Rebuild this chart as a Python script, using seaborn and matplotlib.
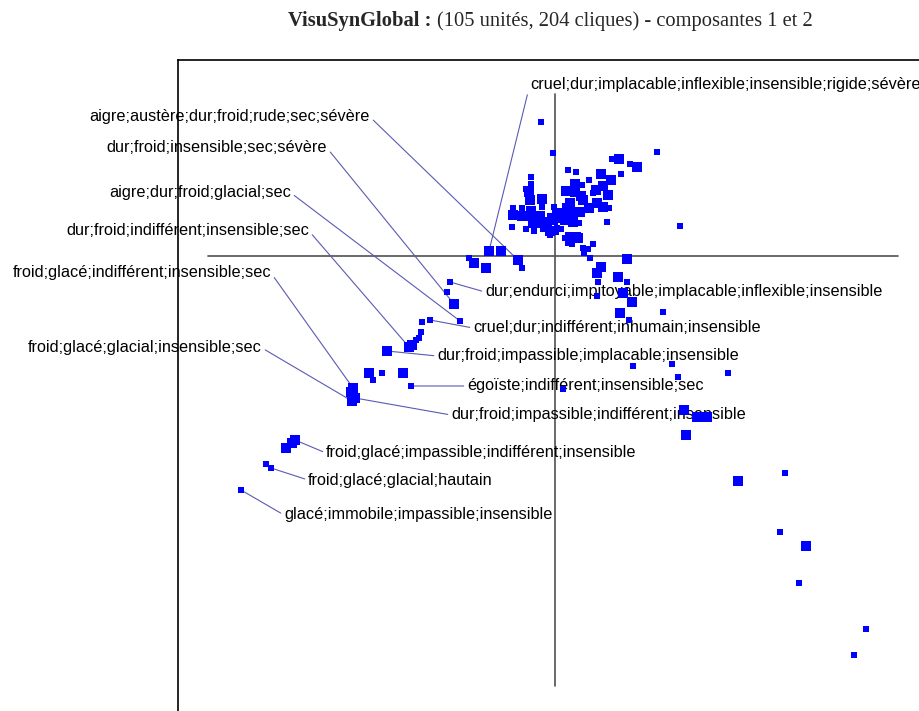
"""
VisuSynGlobal: projection of synonym cliques on components 1 and 2.
"""

import matplotlib
matplotlib.use('Agg')
import matplotlib.pyplot as plt
import seaborn as sns
import pandas as pd

# ── Data: clique coordinates on components 1 and 2 ───────────────────────
comp1 = [-0.14, -0.02, 1.02, 0.57, 0.64, 0.75, 0.82, 0.13, 0.21, 0.46,
         0.66, -0.24, 0.56, 0.34, -0.24, 0.20, 0.27, 0.48, -0.29, -0.26,
         0.11, 0.41, 0.20, 0.38, 0.53, -0.25, -0.13, 0.26, 0.28, -0.42,
         -0.33, 0.15, -0.24, -0.13, -0.01, 0.12, 0.34, 0.42, 0.48, 0.54,
         -0.42, -0.33, -0.24, -0.15, -0.05, 0.02, 0.07, 0.13, 0.18, 0.25,
         -0.22, -0.15, -0.08, -0.02, 0.05, 0.10, 0.18, 0.24, 0.52, -0.43,
         -0.29, -0.21, -0.10, -0.05, 0.02, 0.01, 0.06, -0.05, 1.25, 0.10,
         0.15, 0.21, 0.13, 0.17, 0.23, 0.28, 0.33, 0.38, 0.29, 0.35,
         0.72, -0.66, -0.54, -0.37, -0.86, -0.81, -0.69, -0.33, 0.46, 0.42,
         0.63, 0.72, 0.43, 0.68, 0.42, 0.77, 1.08, 0.65, 0.74,
         -1.05, -1.08, -1.01, -0.95, -1.25, -1.33, -1.34, -1.36, -1.39, -1.43,
         -1.46, -1.68, -1.86, -1.82, -1.73, -1.52, -1.44, -2.02, -2.04, -2.00,
         -2.03,
         0.78, 1.17, 1.23, 1.73, 0.08, 1.29, 1.42, 1.52, 1.31, 2.30,
         1.83, 2.25, 2.51, 2.44, 3.11, 2.99,
         -2.60, -2.63, -2.69, -2.89, -2.84, -3.14]
comp2 = [1.34, 1.03, 1.04, 0.97, 0.97, 0.92, 0.89, 0.86, 0.84, 0.82,
         0.82, 0.79, 0.76, 0.76, 0.72, 0.72, 0.71, 0.70, 0.67, 0.64,
         0.65, 0.66, 0.64, 0.63, 0.61, 0.56, 0.57, 0.60, 0.56, 0.48,
         0.48, 0.53, 0.45, 0.49, 0.49, 0.48, 0.48, 0.53, 0.49, 0.48,
         0.41, 0.40, 0.40, 0.40, 0.40, 0.43, 0.43, 0.46, 0.43, 0.44,
         0.33, 0.33, 0.34, 0.36, 0.38, 0.36, 0.34, 0.33, 0.34, 0.29,
         0.27, 0.25, 0.29, 0.25, 0.28, 0.24, 0.27, 0.21, 0.30, 0.18,
         0.19, 0.19, 0.13, 0.12, 0.18, 0.08, 0.07, 0.12, 0.03, -0.02,
         -0.03, 0.05, 0.05, -0.04, -0.02, -0.07, -0.12, -0.12, -0.11, -0.17,
         -0.21, -0.26, -0.26, -0.37, -0.40, -0.46, -0.56, -0.57, -0.64,
         -0.26, -0.36, -0.48, -0.65, -0.64, -0.66, -0.76, -0.82, -0.84, -0.89,
         -0.91, -0.95, -1.17, -1.24, -1.17, -1.17, -1.30, -1.32, -1.36, -1.42,
         -1.45,
         -1.10, -1.08, -1.21, -1.17, -1.33, -1.54, -1.61, -1.61, -1.79, -2.17,
         -2.25, -2.76, -2.90, -3.27, -3.73, -3.99,
         -1.84, -1.87, -1.92, -2.08, -2.12, -2.34]
weight = list("SSSSLSLSSL" "SSLSSLSLSL" "LLLSLLLLLS" "SLLSSLLLLS"
              "LLLLSLLLLL" "LLLLLLLSSS" "SSLLSSSSSS" "LLSSLSSSSS"
              "LLLLSLLSLL" "LSSLSLSLS"
              "SSLSSSSSSL" "LLLSSLSLLL" "L"
              "SSSSSLLLLS" "LSLSSS"
              "LLLSSS")

labels = ["cruel;dur;implacable;inflexible;insensible;rigide;sévère",
          "aigre;austère;dur;froid;rude;sec;sévère",
          "dur;froid;insensible;sec;sévère",
          "aigre;dur;froid;glacial;sec",
          "dur;froid;indifférent;insensible;sec",
          "froid;glacé;indifférent;insensible;sec",
          "froid;glacé;glacial;insensible;sec",
          "dur;endurci;impitoyable;implacable;inflexible;insensible",
          "cruel;dur;indifférent;inhumain;insensible",
          "dur;froid;impassible;implacable;insensible",
          "égoïste;indifférent;insensible;sec",
          "dur;froid;impassible;indifférent;insensible",
          "froid;glacé;impassible;indifférent;insensible",
          "froid;glacé;glacial;hautain",
          "glacé;immobile;impassible;insensible"]
label_comp1 = [-0.66, -0.37, -1.01, -0.95, -1.46, -2.02, -2.03, -1.05,
               -1.25, -1.68, -1.44, -2.00, -2.60, -2.84, -3.14]
label_comp2 = [0.05, -0.04, -0.48, -0.65, -0.91, -1.32, -1.45, -0.26,
               -0.64, -0.95, -1.30, -1.42, -1.84, -2.12, -2.34]

# ── Layout: where each label text sits ───────────────────────────────────
text_x = [-0.25, -1.85, -2.28, -2.64, -2.46, -2.84, -2.93, -0.70,
          -0.82, -1.18, -0.88, -1.04, -2.29, -2.47, -2.71]
text_y = [1.72, 1.39, 1.08, 0.63, 0.25, -0.17, -0.92, -0.36,
          -0.72, -1.00, -1.30, -1.59, -1.97, -2.24, -2.59]
text_ha = ['left', 'right', 'right', 'right', 'right', 'right', 'right', 'left',
           'left', 'left', 'left', 'left', 'left', 'left', 'left']

df = pd.DataFrame({'c1': comp1, 'c2': comp2, 'w': weight})

sns.set_style('white')
plt.rcParams['font.family'] = ['Liberation Sans', 'DejaVu Sans']

fig = plt.figure(figsize=(9.2, 7.11), dpi=100)
ax = fig.add_axes([178 / 920, 0, 742 / 920, 651 / 711])
ax.set_xlim(-3.77, 3.65)
ax.set_ylim(-4.55, 1.96)
for side in ['right', 'bottom']:
    ax.spines[side].set_visible(False)
for side in ['left', 'top']:
    ax.spines[side].set_color('black')
    ax.spines[side].set_linewidth(1.2)
ax.set_xticks([])
ax.set_yticks([])

# component axes
ax.plot([-3.47, 3.43], [0, 0], color='#505050', lw=1.2, zorder=1)
ax.plot([0, 0], [1.62, -4.30], color='#505050', lw=1.2, zorder=1)

# labels with leader lines
for txt, px, py, tx, ty, ha in zip(labels, label_comp1, label_comp2,
                                   text_x, text_y, text_ha):
    rp = (1, 0.5) if ha == 'right' else (0, 0.5)
    ax.annotate(txt, xy=(px, py), xytext=(tx, ty), ha=ha, va='center',
                fontsize=11.7, color='black', zorder=2,
                arrowprops=dict(arrowstyle='-', color='#5a5ab4', lw=0.8,
                                relpos=rp, shrinkA=0, shrinkB=0))

sns.scatterplot(data=df, x='c1', y='c2', size='w', sizes={'L': 42, 'S': 20},
                marker='s', color='#0000ff', linewidth=0, legend=False,
                ax=ax, zorder=3)
ax.set_xlabel('')
ax.set_ylabel('')

# title: bold prefix + regular rest
t1 = fig.text(288 / 920, 1 - 21 / 711, 'VisuSynGlobal : ', family='Liberation Serif',
              fontweight='bold', fontsize=14.8, ha='left', va='center')
fig.canvas.draw()
bb = t1.get_window_extent()
fig.text(bb.x1 / fig.bbox.width, 1 - 21 / 711,
         '(105 unités, 204 cliques) - composantes 1 et 2',
         family='Liberation Serif', fontsize=14.8, ha='left', va='center')

fig.savefig('out.png', dpi=100)
plt.close(fig)
